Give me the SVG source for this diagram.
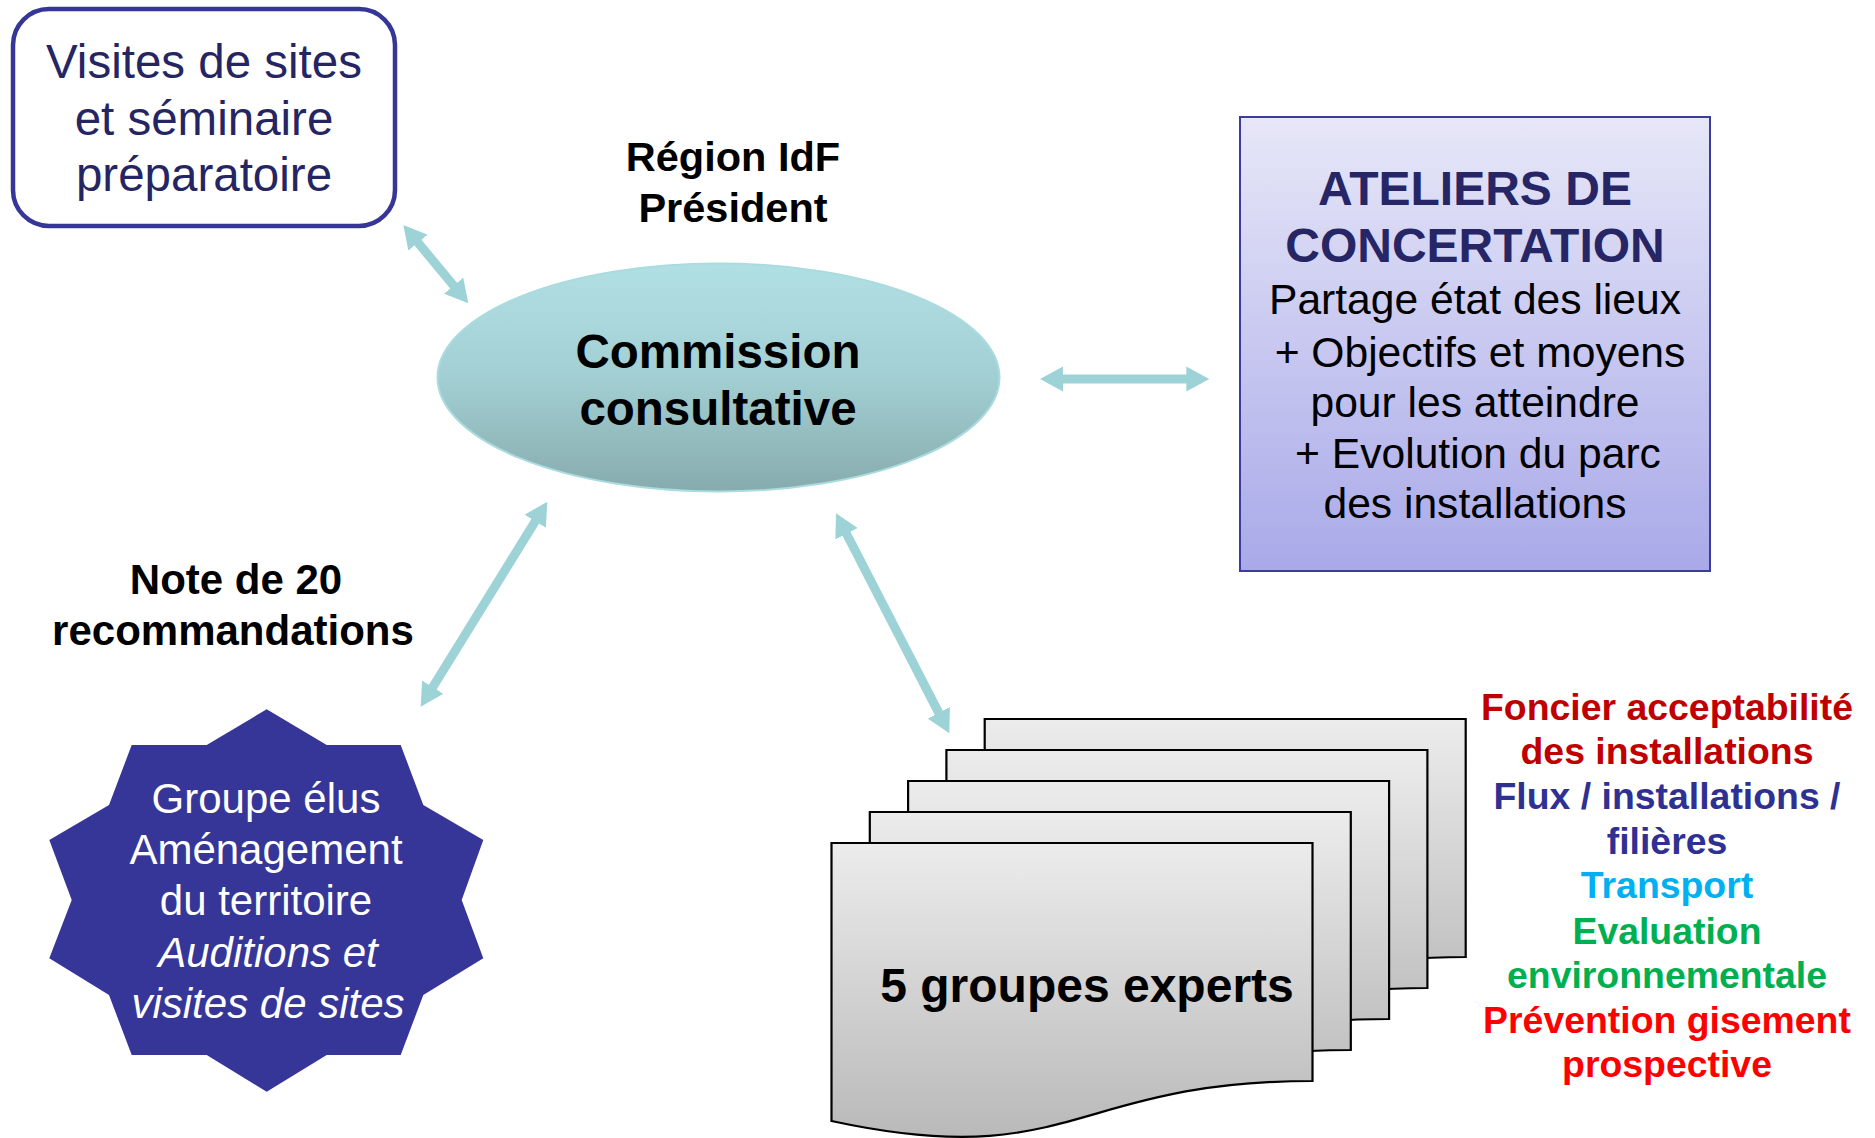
<svg xmlns="http://www.w3.org/2000/svg" width="1875" height="1138" viewBox="0 0 1875 1138">
<style>
.t{font-family:"Liberation Sans",Arial,sans-serif;text-anchor:middle}
.b{font-weight:bold}
.conn{stroke:#9dd3d7;stroke-width:9;fill:none}
.page{stroke:#000;stroke-width:2.2;fill:url(#gPage)}
</style>
<defs>
<linearGradient id="gEll" x1="0" y1="0" x2="0" y2="1">
<stop offset="0" stop-color="#b1e0e4"/>
<stop offset="0.5" stop-color="#a2cfd3"/>
<stop offset="1" stop-color="#87abad"/>
</linearGradient>
<linearGradient id="gAt" x1="0" y1="0" x2="0" y2="1">
<stop offset="0" stop-color="#e7e7f8"/>
<stop offset="1" stop-color="#a9a9e9"/>
</linearGradient>
<linearGradient id="gPage" x1="0" y1="0" x2="0" y2="1">
<stop offset="0" stop-color="#ececec"/>
<stop offset="1" stop-color="#b9b9b9"/>
</linearGradient>
<path id="doc" d="M831.5,843 L1312.5,843 L1312.5,1081 C1072,1081 1072,1173 831.5,1121 Z"/>
<marker id="ah" markerUnits="userSpaceOnUse" markerWidth="24" markerHeight="26" refX="2" refY="12.5" orient="auto-start-reverse" viewBox="0 0 24 25">
<path d="M0,0 L23,12.5 L0,25 z" fill="#9dd3d7"/>
</marker>
</defs>

<g id="visites">
<rect x="13" y="9" width="382" height="217" rx="36" ry="36" fill="#fff" stroke="#363699" stroke-width="4.5"/>
<text class="t" font-size="47.5" fill="#252563"><tspan x="204" y="78">Visites de sites</tspan><tspan x="204" y="135">et séminaire</tspan><tspan x="204" y="191">préparatoire</tspan></text>
</g>

<g id="region">
<text class="t b" font-size="41.5" fill="#000"><tspan x="733" y="171">Région IdF</tspan><tspan x="733" y="222">Président</tspan></text>
</g>

<g id="commission">
<ellipse cx="718.5" cy="377.5" rx="281" ry="114" fill="url(#gEll)" stroke="#a9dbdf" stroke-width="2"/>
<text class="t b" font-size="47.5" fill="#000"><tspan x="718" y="368">Commission</tspan><tspan x="718" y="425">consultative</tspan></text>
</g>

<g id="ateliers">
<rect x="1240" y="117" width="470" height="454" fill="url(#gAt)" stroke="#3b3ba0" stroke-width="2"/>
<text class="t b" font-size="48" fill="#262666"><tspan x="1475" y="205">ATELIERS DE</tspan><tspan x="1475" y="262">CONCERTATION</tspan></text>
<text class="t" font-size="42.6" fill="#000"><tspan x="1475" y="314">Partage état des lieux</tspan><tspan x="1480" y="367">+ Objectifs et moyens</tspan><tspan x="1475" y="417">pour les atteindre</tspan><tspan x="1478" y="468">+ Evolution du parc</tspan><tspan x="1475" y="518">des installations</tspan></text>
</g>

<g id="note">
<text class="t b" font-size="42" fill="#000"><tspan x="236" y="594">Note de 20</tspan><tspan x="233" y="645">recommandations</tspan></text>
</g>

<g id="groupe-elus">
<polygon points="266.7,709.3 326.7,745 400.7,745 423.3,805 483.3,840 461.7,900 483.3,958.3 423.3,995 400.7,1055 326.7,1055 266.7,1091.7 206.7,1055 131.7,1055 109,995 49.3,958.3 71.7,900 49.3,840 109,805 131.7,745 206.7,745" fill="#363698"/>
<text class="t" font-size="42" fill="#fff"><tspan x="266" y="813">Groupe élus</tspan><tspan x="266" y="864">Aménagement</tspan><tspan x="266" y="915">du territoire</tspan></text>
<text class="t" font-size="42" font-style="italic" fill="#fff"><tspan x="268" y="967">Auditions et</tspan><tspan x="268" y="1018">visites de sites</tspan></text>
</g>

<g id="groupes-experts">
<use href="#doc" class="page" transform="translate(153.2,-124)"/>
<use href="#doc" class="page" transform="translate(114.9,-93)"/>
<use href="#doc" class="page" transform="translate(76.6,-62)"/>
<use href="#doc" class="page" transform="translate(38.3,-31)"/>
<use href="#doc" class="page"/>
<text class="t b" x="1087" y="1002" font-size="48" fill="#000">5 groupes experts</text>
</g>

<g id="themes">
<text class="t b" font-size="37.4"><tspan x="1667" y="720" fill="#c00000">Foncier acceptabilité</tspan><tspan x="1667" y="764" fill="#c00000">des installations</tspan><tspan x="1667" y="809" fill="#2e3192">Flux / installations /</tspan><tspan x="1667" y="854" fill="#2e3192">filières</tspan><tspan x="1667" y="898" fill="#00b0f0">Transport</tspan><tspan x="1667" y="944" fill="#00b050">Evaluation</tspan><tspan x="1667" y="988" fill="#00b050">environnementale</tspan><tspan x="1667" y="1033" fill="#ff0000">Prévention gisement</tspan><tspan x="1667" y="1077" fill="#ff0000">prospective</tspan></text>
</g>

<g id="connectors">
<line class="conn" x1="416.7" y1="241.1" x2="454.9" y2="287.2" marker-start="url(#ah)" marker-end="url(#ah)"/>
<line class="conn" x1="1061" y1="379" x2="1188.3" y2="379" marker-start="url(#ah)" marker-end="url(#ah)"/>
<line class="conn" x1="536.3" y1="519.6" x2="431.7" y2="688.8" marker-start="url(#ah)" marker-end="url(#ah)"/>
<line class="conn" x1="845.6" y1="532" x2="939.7" y2="714.6" marker-start="url(#ah)" marker-end="url(#ah)"/>
</g>
</svg>
